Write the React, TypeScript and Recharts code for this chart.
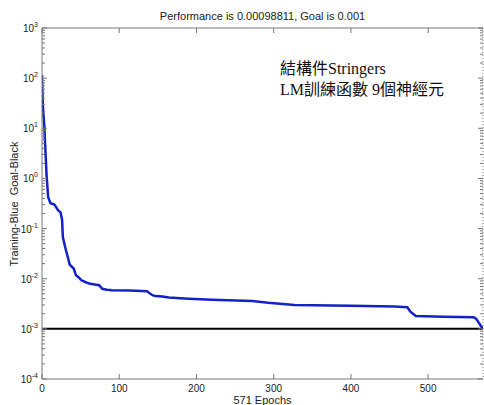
import { LineChart, Line, XAxis, YAxis, ReferenceLine } from "recharts";

// training record (epoch -> mse)
const EPOCHS = [0, 1, 3, 4, 6, 8, 11, 16, 21, 24, 26, 27, 29, 31, 34, 36, 41, 44, 48, 51, 56, 61, 68, 74, 78, 84, 91, 113, 136, 139, 143, 147, 156, 164, 190, 220, 272, 293, 327, 400, 456, 473, 477, 484, 520, 559, 562, 571];
const PERF = [115, 30, 11, 5, 1.1, 0.42, 0.32, 0.3, 0.23, 0.21, 0.15, 0.068, 0.05, 0.037, 0.025, 0.019, 0.016, 0.0117, 0.0105, 0.0093, 0.0086, 0.008, 0.0077, 0.0074, 0.0063, 0.006, 0.0059, 0.0058, 0.0056, 0.0052, 0.0047, 0.0045, 0.0044, 0.0042, 0.004, 0.0038, 0.0036, 0.0033, 0.003, 0.0029, 0.0028, 0.0027, 0.0022, 0.0018, 0.00175, 0.0017, 0.0016, 0.00098811];
const GOAL = 0.001;
const X_MAX = 571;
const X_TICKS = [0, 100, 200, 300, 400, 500];
const DECADES = [-4, -3, -2, -1, 0, 1, 2, 3];
const MINOR = [2, 3, 4, 5, 6, 7, 8, 9];

const TITLE = "Performance is 0.00098811, Goal is 0.001";
const X_LABEL = "571 Epochs";
const Y_LABEL = "Training-Blue  Goal-Black";
const NOTE = ["結構件Stringers", "LM訓練函數 9個神經元"];

const W = 484, H = 405;
const PL = 42, PR = 483, PT = 28, PB = 379;
const AXIS = "#777";
const INK = "#222";
const SANS = '"Liberation Sans", Arial, sans-serif';

const data = EPOCHS.map((epoch, i) => ({ epoch, perf: PERF[i] }));

const Y_TICKS: number[] = [];
DECADES.forEach((d) => {
  Y_TICKS.push(Math.pow(10, d));
  if (d < 3) MINOR.forEach((m) => Y_TICKS.push(m * Math.pow(10, d)));
});
const isMajor = (v: number) => Math.abs(Math.log10(v) - Math.round(Math.log10(v))) < 1e-9;

function BottomTick({ x, payload }: any) {
  return (
    <g>
      <line x1={x} x2={x} y1={PB} y2={PB - 5} stroke={AXIS} />
      <text x={x} y={PB + 13} textAnchor="middle" fontSize={10} fontFamily={SANS} fill={INK}>{payload.value}</text>
    </g>
  );
}

function TopTick({ x }: any) {
  return <line x1={x} x2={x} y1={PT} y2={PT + 5} stroke={AXIS} />;
}

function LeftTick({ y, payload }: any) {
  const v = payload.value;
  const major = isMajor(v);
  return (
    <g>
      <line x1={PL} x2={PL + (major ? 5 : 3)} y1={y} y2={y} stroke={AXIS} />
      {major && (
        <text x={38} y={y + 4} textAnchor="end" fontSize={10} fontFamily={SANS} fill={INK}>
          10<tspan dy={-5} fontSize={7}>{Math.round(Math.log10(v))}</tspan>
        </text>
      )}
    </g>
  );
}

function RightTick({ y, payload }: any) {
  const major = isMajor(payload.value);
  return <line x1={PR} x2={PR - (major ? 5 : 3)} y1={y} y2={y} stroke={AXIS} />;
}

export default function App() {
  return (
    <div style={{ position: "fixed", left: 0, top: 0, width: W, height: H, overflow: "hidden", background: "#fff" }}>
      <LineChart width={W} height={H} data={data} margin={{ top: 0, right: 0, bottom: 0, left: 0 }}>
        <XAxis xAxisId="b" dataKey="epoch" type="number" domain={[0, X_MAX]} ticks={X_TICKS} interval={0}
          height={H - PB} axisLine={{ stroke: AXIS }} tickLine={false} tick={(p: any) => <BottomTick {...p} />} allowDataOverflow />
        <XAxis xAxisId="t" orientation="top" dataKey="epoch" type="number" domain={[0, X_MAX]} ticks={X_TICKS} interval={0}
          height={PT} axisLine={{ stroke: AXIS }} tickLine={false} tick={(p: any) => <TopTick {...p} />} allowDataOverflow />
        <YAxis yAxisId="l" type="number" scale="log" domain={[1e-4, 1e3]} ticks={Y_TICKS} interval={0}
          width={PL} axisLine={{ stroke: AXIS }} tickLine={false} tick={(p: any) => <LeftTick {...p} />} allowDataOverflow />
        <YAxis yAxisId="r" orientation="right" type="number" scale="log" domain={[1e-4, 1e3]} ticks={Y_TICKS} interval={0}
          width={W - PR} axisLine={{ stroke: AXIS, strokeDasharray: "1 2" }} tickLine={false} tick={(p: any) => <RightTick {...p} />} allowDataOverflow />
        <ReferenceLine xAxisId="b" yAxisId="l" y={GOAL} stroke="#000" strokeWidth={2} />
        <Line xAxisId="b" yAxisId="l" type="linear" dataKey="perf" stroke="#1420c8" strokeWidth={2.5} dot={false} isAnimationActive={false} />
      </LineChart>

      <div style={{ position: "absolute", left: PL, width: PR - PL, top: 10, textAlign: "center", fontFamily: SANS, fontSize: 11, lineHeight: "13px", color: INK }}>{TITLE}</div>
      <div style={{ position: "absolute", left: PL, width: PR - PL, top: 394, textAlign: "center", fontFamily: SANS, fontSize: 11, lineHeight: "13px", color: INK }}>{X_LABEL}</div>
      <div style={{ position: "absolute", left: 14, top: (PT + PB) / 2, transform: "translate(-50%, -50%) rotate(-90deg)", whiteSpace: "pre", fontFamily: SANS, fontSize: 11, color: INK }}>{Y_LABEL}</div>
      <div style={{ position: "absolute", left: 280, top: 58, fontFamily: '"Liberation Serif", "Noto Sans CJK TC", serif', fontSize: 16, lineHeight: "21px", color: "#111" }}>
        {NOTE.map((t) => <div key={t} style={{ whiteSpace: "nowrap" }}>{t}</div>)}
      </div>
    </div>
  );
}
